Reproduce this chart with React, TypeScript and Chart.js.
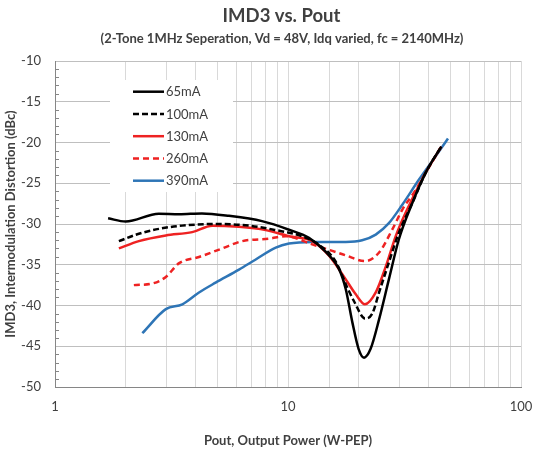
import React, { useEffect, useRef } from "react";
import { Chart, registerables } from "chart.js";
Chart.register(...registerables);

const SERIES_LABELS = ["65mA", "100mA", "130mA", "260mA", "390mA"];

const pout65 = [1.69, 2.01, 2.79, 3.41, 4.27, 5.58, 7.73, 10.1, 12.3, 14.5, 16.6, 17.7, 18.9, 20.1, 21.2, 22.6, 24.6, 27.1, 29.9, 34.2, 39.0, 45.5];
const imd65 = [-29.3, -29.7, -28.75, -28.8, -28.7, -29.0, -29.65, -30.7, -31.7, -33.4, -35.6, -38.0, -42.1, -45.35, -46.4, -45.35, -41.7, -36.8, -31.9, -27.4, -23.7, -20.5];

const pout100 = [1.88, 2.29, 2.79, 3.51, 4.89, 6.8, 8.86, 11.2, 13.5, 16.0, 18.1, 19.3, 21.4, 23.0, 24.6, 27.1, 29.9, 34.2, 39.0, 45.5];
const imd100 = [-32.1, -31.2, -30.6, -30.2, -30.0, -30.2, -30.75, -31.4, -32.5, -34.6, -38.0, -39.6, -41.6, -41.0, -38.4, -34.7, -31.1, -27.4, -23.7, -20.5];

const pout130 = [1.88, 2.29, 2.99, 3.88, 4.73, 6.16, 8.02, 10.1, 12.7, 15.0, 17.7, 19.5, 21.4, 23.8, 26.3, 29.0, 32.0, 39.0, 45.5];
const imd130 = [-33.0, -32.1, -31.4, -31.0, -30.2, -30.35, -30.75, -31.5, -32.1, -33.9, -36.8, -38.6, -39.85, -38.4, -35.2, -31.5, -28.6, -23.7, -20.5];

const pout260 = [2.18, 2.62, 2.99, 3.41, 4.15, 5.22, 6.37, 8.29, 9.77, 12.7, 15.5, 17.7, 21.4, 24.6, 28.0, 31.0, 35.0, 39.0, 45.0];
const imd260 = [-37.5, -37.3, -36.5, -34.8, -34.05, -33.0, -32.1, -31.8, -31.5, -32.5, -33.3, -33.85, -34.55, -33.5, -30.7, -28.2, -26.0, -23.7, -20.7];

const pout390 = [2.37, 2.99, 3.52, 4.15, 4.89, 6.16, 7.27, 8.86, 10.1, 12.7, 17.7, 20.8, 23.8, 27.1, 31.0, 36.5, 43.0, 48.6];
const imd390 = [-43.4, -40.45, -39.85, -38.4, -37.2, -35.6, -34.35, -32.9, -32.4, -32.2, -32.2, -32.0, -31.3, -29.9, -27.6, -24.55, -21.7, -19.5];

const X_TICK_LABELS = [1, 10, 100];
const Y_MIN = -50;
const Y_MAX = -10;
const Y_STEP = 5;

const TITLE = "IMD3 vs. Pout";
const SUBTITLE = "(2-Tone 1MHz Seperation, Vd = 48V, Idq varied, fc = 2140MHz)";

const FONT = "Lato, 'Open Sans', sans-serif";
const TEXT = "#404040";

export default function App() {
  const ref = useRef<HTMLCanvasElement>(null);

  useEffect(() => {
    const mk = (xs: number[], ys: number[]) => xs.map((x, i) => ({ x, y: ys[i] }));

    const legendPlugin = {
      id: "insideLegend",
      beforeDatasetsDraw(chart: any) {
        const { ctx, chartArea } = chart;
        const bx = chartArea.left + 55;
        const by = chartArea.top + 19;
        ctx.save();
        ctx.fillStyle = "#ffffff";
        ctx.fillRect(bx, by, 123, 112);
        ctx.font = `13px ${FONT}`;
        ctx.textBaseline = "middle";
        ctx.textAlign = "left";
        chart.data.datasets.forEach((ds: any, i: number) => {
          const y = by + 11.7 + i * 22.25;
          ctx.strokeStyle = ds.borderColor;
          ctx.lineWidth = ds.borderWidth;
          ctx.setLineDash(ds.borderDash || []);
          ctx.beginPath();
          ctx.moveTo(bx + 23, y);
          ctx.lineTo(bx + 54, y);
          ctx.stroke();
          ctx.setLineDash([]);
          ctx.fillStyle = TEXT;
          ctx.fillText(ds.label, bx + 56, y + 0.5);
        });
        ctx.restore();
      },
    };

    const decorations = {
      id: "decorations",
      afterDraw(chart: any) {
        const { ctx, chartArea } = chart;
        const ys = chart.scales.y;
        ctx.save();
        ctx.strokeStyle = "#868686";
        ctx.lineWidth = 1;
        for (let v = Y_MIN + 1; v < Y_MAX; v++) {
          if (v % Y_STEP === 0) continue;
          const py = Math.round(ys.getPixelForValue(v)) + 0.5;
          ctx.beginPath();
          ctx.moveTo(chartArea.left, py);
          ctx.lineTo(chartArea.left + 4, py);
          ctx.stroke();
        }
        ctx.fillStyle = TEXT;
        ctx.textAlign = "center";
        ctx.textBaseline = "alphabetic";
        ctx.font = `bold 18.5px ${FONT}`;
        ctx.fillText(TITLE, 281.5, 21.5);
        ctx.font = `bold 13px ${FONT}`;
        ctx.fillText(SUBTITLE, 282, 43);
        ctx.restore();
      },
    };

    const base = { fill: false, pointRadius: 0, borderWidth: 2.5, cubicInterpolationMode: "monotone" as const };

    const chart = new Chart(ref.current as HTMLCanvasElement, {
      type: "line",
      data: {
        datasets: [
          { ...base, label: SERIES_LABELS[0], data: mk(pout65, imd65), borderColor: "#000000" },
          { ...base, label: SERIES_LABELS[1], data: mk(pout100, imd100), borderColor: "#000000", borderDash: [6, 3] },
          { ...base, label: SERIES_LABELS[2], data: mk(pout130, imd130), borderColor: "#ee2222" },
          { ...base, label: SERIES_LABELS[3], data: mk(pout260, imd260), borderColor: "#ee2222", borderDash: [6, 4] },
          { ...base, label: SERIES_LABELS[4], data: mk(pout390, imd390), borderColor: "#2e75b6" },
        ],
      },
      options: {
        responsive: false,
        animation: false,
        events: [],
        layout: { padding: { left: 0, right: 16, top: 61, bottom: 0 } },
        plugins: {
          legend: { display: false },
          tooltip: { enabled: false },
          title: { display: false },
          subtitle: { display: false },
        },
        scales: {
          x: {
            type: "logarithmic",
            min: 1,
            max: 100,
            ticks: {
              autoSkip: false,
              maxRotation: 0,
              padding: 12,
              color: TEXT,
              font: { family: FONT, size: 13 },
              callback: (v: any) => {
                const n = Number(v);
                return X_TICK_LABELS.some((t) => Math.abs(t - n) < 1e-6) ? String(n) : "";
              },
            },
            grid: { color: "#d9d9d9", drawTicks: false, tickLength: 0 },
            border: { color: "#868686" },
            title: {
              display: true,
              text: "Pout, Output Power (W-PEP)",
              color: TEXT,
              font: { family: FONT, size: 13, weight: "bold" },
              padding: { top: 0, bottom: 7 },
            },
            afterFit: (s: any) => {
              s.height = 69;
              s.paddingLeft = 0;
              s.paddingRight = 0;
            },
          },
          y: {
            min: Y_MIN,
            max: Y_MAX,
            ticks: { stepSize: Y_STEP, padding: 14, color: TEXT, font: { family: FONT, size: 13 } },
            grid: { color: "#bfbfbf", drawTicks: false, tickLength: 0 },
            border: { color: "#868686" },
            title: {
              display: true,
              text: "IMD3, Intermodulation Distortion (dBc)",
              color: TEXT,
              font: { family: FONT, size: 13, weight: "bold" },
              padding: { top: 3, bottom: 0 },
            },
            afterFit: (s: any) => {
              s.width = 55;
              s.paddingTop = 0;
              s.paddingBottom = 0;
            },
          },
        },
      },
      plugins: [legendPlugin, decorations],
    } as any);
    return () => chart.destroy();
  }, []);

  return (
    <div style={{ position: "absolute", left: 0, top: 0, width: 537, height: 456, background: "#fff" }}>
      <canvas ref={ref} width={537} height={456} style={{ display: "block" }} />
    </div>
  );
}
